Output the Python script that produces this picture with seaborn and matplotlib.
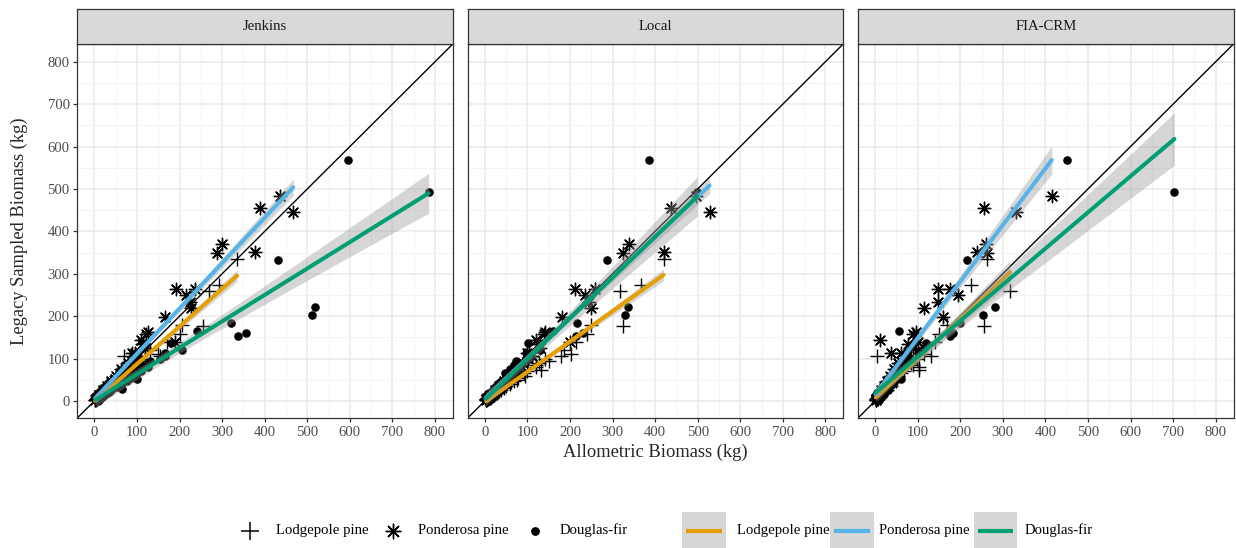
import numpy as np
import pandas as pd
import matplotlib
matplotlib.use("Agg")
import matplotlib.pyplot as plt
import seaborn as sns
from matplotlib.patches import Rectangle
from matplotlib.ticker import MultipleLocator

sns.set_theme(style="white")
plt.rcParams["font.family"] = ["Liberation Serif", "DejaVu Serif"]

# Lodgepole pine: legacy sampled biomass and allometric estimates (kg)
lp_legacy  = [335, 273, 259, 177, 178, 158, 140, 105, 110, 73, 107, 80, 120, 95, 60, 50, 40, 30, 22, 15, 10, 6, 3,
              2, 4, 5, 7, 9, 11, 13, 16, 18, 20, 24, 27, 32, 36, 44, 48, 55, 65, 70, 85, 90, 100]
lp_jenkins = [335, 293, 270, 256, 205, 200, 170, 155, 150, 95, 70, 85, 130, 110, 70, 55, 48, 35, 25, 18, 12, 7, 4,
              2, 5, 6, 8, 10, 13, 15, 19, 21, 24, 28, 31, 38, 42, 52, 57, 63, 76, 82, 100, 108, 118]
lp_local   = [420, 366, 317, 324, 250, 240, 215, 178, 202, 131, 110, 120, 185, 150, 95, 75, 60, 45, 32, 22, 15, 9, 5,
              3, 6, 8, 10, 13, 16, 19, 23, 26, 29, 34, 38, 45, 51, 62, 68, 78, 92, 99, 120, 128, 142]
lp_fia_crm = [262, 225, 317, 255, 170, 150, 140, 131, 115, 104, 5, 104, 95, 80, 55, 45, 35, 28, 20, 14, 9, 5, 3,
              2, 4, 6, 7, 8, 12, 13, 15, 19, 22, 25, 27, 30, 38, 40, 50, 52, 60, 68, 88, 85, 98]

# Ponderosa pine
pp_legacy  = [483, 456, 446, 369, 350, 352, 263, 265, 199, 234, 220, 250, 163, 158, 140, 135, 112, 144, 114, 90, 75, 60, 48, 35, 25, 15, 8, 4,
              2, 4, 6, 9, 11, 13, 17, 20, 23, 28, 31, 38, 42, 52, 56, 66, 70, 82, 98, 105, 125]
pp_jenkins = [435, 389, 467, 300, 288, 377, 192, 236, 166, 224, 228, 215, 127, 121, 189, 113, 88, 110, 95, 80, 62, 50, 40, 30, 20, 12, 7, 3,
              2, 4, 6, 8, 10, 12, 16, 19, 21, 26, 29, 36, 40, 49, 53, 62, 66, 77, 92, 99, 118]
pp_local   = [495, 438, 528, 338, 324, 422, 213, 260, 182, 245, 250, 235, 142, 138, 200, 125, 100, 120, 105, 90, 70, 58, 45, 34, 24, 14, 8, 4,
              2, 4, 6, 9, 11, 13, 18, 21, 24, 29, 32, 40, 44, 54, 58, 69, 73, 85, 101, 110, 130]
pp_fia_crm = [415, 256, 331, 260, 262, 240, 147, 176, 159, 148, 114, 195, 95, 88, 100, 78, 60, 12, 37, 55, 45, 36, 28, 20, 15, 9, 5, 3,
              1, 3, 4, 6, 8, 9, 12, 14, 17, 20, 22, 27, 30, 37, 41, 47, 51, 59, 70, 76, 90]

# Douglas-fir
df_legacy  = [568, 493, 332, 222, 203, 183, 160, 154, 166, 120, 136, 114, 95, 67, 51, 28, 85, 75, 60, 45, 40, 30, 20, 12, 8, 5,
              2, 3, 6, 9, 10, 14, 16, 18, 22, 25, 33, 36, 42, 48, 55, 65, 70, 80, 100, 105]
df_jenkins = [595, 785, 431, 519, 510, 322, 357, 337, 242, 206, 180, 165, 130, 90, 99, 64, 110, 100, 80, 55, 50, 40, 30, 20, 10, 6,
              3, 5, 9, 14, 16, 22, 26, 28, 35, 40, 52, 57, 66, 76, 86, 100, 110, 125, 155, 165]
df_local   = [385, 499, 286, 337, 330, 217, 230, 215, 160, 130, 102, 97, 73, 48, 62, 38, 68, 60, 50, 35, 30, 25, 18, 10, 6, 4,
              2, 3, 6, 9, 10, 14, 16, 18, 22, 25, 33, 35, 42, 47, 55, 64, 70, 78, 97, 102]
df_fia_crm = [450, 703, 215, 281, 254, 200, 184, 175, 57, 110, 120, 100, 80, 55, 60, 30, 75, 65, 52, 42, 35, 28, 20, 12, 8, 5,
              1, 2, 4, 6, 7, 10, 11, 13, 15, 17, 23, 25, 30, 34, 40, 47, 50, 58, 72, 78]

methods = ["Jenkins", "Local", "FIA-CRM"]
species_names = ["Lodgepole pine", "Ponderosa pine", "Douglas-fir"]
fit_colors = ["#E69F00", "#56B4E9", "#009E73"]

tables = []
for name, leg, jk, lo, fc in [
    ("Lodgepole pine", lp_legacy, lp_jenkins, lp_local, lp_fia_crm),
    ("Ponderosa pine", pp_legacy, pp_jenkins, pp_local, pp_fia_crm),
    ("Douglas-fir", df_legacy, df_jenkins, df_local, df_fia_crm),
]:
    for method, xs in zip(methods, [jk, lo, fc]):
        tables.append(pd.DataFrame({"species": name, "method": method,
                                    "allometric": xs, "legacy": leg}))
trees = pd.concat(tables, ignore_index=True)


def t975(dof):
    z = 1.959964
    return (z + (z**3 + z) / (4 * dof)
            + (5 * z**5 + 16 * z**3 + 3 * z) / (96 * dof**2))


def lm_band(x, y, npts=80):
    x = np.asarray(x, float)
    y = np.asarray(y, float)
    n = len(x)
    slope, icpt = np.polyfit(x, y, 1)
    resid = y - (icpt + slope * x)
    s = np.sqrt(np.sum(resid**2) / (n - 2))
    grid = np.linspace(x.min(), x.max(), npts)
    fit = icpt + slope * grid
    se = s * np.sqrt(1 / n + (grid - x.mean())**2 / np.sum((x - x.mean())**2))
    half = t975(n - 2) * se
    return grid, fit, fit - half, fit + half


W, H = 1236, 548
fig = plt.figure(figsize=(W / 100, H / 100), dpi=100)

lims = (-40.1, 841.7)
panel_left = [77.3, 467.7, 858.0]
panel_w = 375.5
panel_bottom, panel_top = 418.0, 44.0
strip_top = 9.0

marker_for = {"Lodgepole pine": "+", "Ponderosa pine": (8, 2, 0), "Douglas-fir": "o"}
size_for = {"Lodgepole pine": 95, "Ponderosa pine": 80, "Douglas-fir": 38}

border = "#333333"
for i, method in enumerate(methods):
    x0 = panel_left[i]
    ax = fig.add_axes([x0 / W, (H - panel_bottom) / H, panel_w / W,
                       (panel_bottom - panel_top) / H])
    ax.set_xlim(lims)
    ax.set_ylim(lims)
    ax.set_axisbelow(True)
    ax.xaxis.set_major_locator(MultipleLocator(100))
    ax.yaxis.set_major_locator(MultipleLocator(100))
    ax.xaxis.set_minor_locator(MultipleLocator(50))
    ax.yaxis.set_minor_locator(MultipleLocator(50))
    ax.grid(True, which="major", color="#EBEBEB", lw=1.1)
    ax.grid(True, which="minor", color="#F2F2F2", lw=0.6)
    for sp in ax.spines.values():
        sp.set_color(border)
        sp.set_linewidth(0.9)
    ax.tick_params(axis="both", which="major", direction="out", length=3,
                   width=0.9, color=border, labelsize=10.6,
                   labelcolor="#4D4D4D", pad=2.5)
    ax.tick_params(axis="both", which="minor", length=0)
    ax.tick_params(axis="x", bottom=True)
    if i == 0:
        ax.tick_params(axis="y", left=True)
    else:
        ax.tick_params(axis="y", left=False, labelleft=False)

    # 1:1 reference line
    ax.axline((0, 0), slope=1, color="black", lw=1.0, zorder=2)

    sub = trees[trees["method"] == method]
    for sp_name in species_names:
        pts = sub[sub["species"] == sp_name]
        mk = marker_for[sp_name]
        kws = dict(color="black", s=size_for[sp_name], zorder=3, ax=ax, legend=False)
        kws["linewidth"] = 0 if mk == "o" else 1.0
        sns.scatterplot(x=pts["allometric"].to_numpy(), y=pts["legacy"].to_numpy(),
                        marker=mk, **kws)

    for j, (sp_name, col) in enumerate(zip(species_names, fit_colors)):
        pts = sub[sub["species"] == sp_name]
        gx, gy, lo, hi = lm_band(pts["allometric"], pts["legacy"])
        ax.fill_between(gx, lo, hi, color="#999999", alpha=0.4, lw=0,
                        zorder=4 + j * 0.2)
        sns.lineplot(x=gx, y=gy, color=col, lw=2.9, ax=ax,
                     zorder=4.1 + j * 0.2, legend=False)
    ax.set_xlabel("")
    ax.set_ylabel("")

    # facet strip
    sax = fig.add_axes([x0 / W, (H - panel_top) / H, panel_w / W,
                        (panel_top - strip_top) / H])
    sax.set_xticks([])
    sax.set_yticks([])
    sax.set_facecolor("#D9D9D9")
    for sp in sax.spines.values():
        sp.set_color(border)
        sp.set_linewidth(0.9)
    sax.text(0.5, 0.5, method, ha="center", va="center", fontsize=10.6,
             color="#1A1A1A", transform=sax.transAxes)

fig.text((panel_left[0] + panel_left[2] + panel_w) / 2 / W, 1 - 452 / H,
         "Allometric Biomass (kg)", ha="center", va="center", fontsize=13.3)
fig.text(19 / W, 1 - 231 / H, "Legacy Sampled Biomass (kg)", ha="center",
         va="center", rotation=90, fontsize=13.3)

# legends along the bottom
lax = fig.add_axes([0, 0, 1, 1], facecolor="none")
lax.set_xlim(0, W)
lax.set_ylim(H, 0)
lax.axis("off")
ly = 530.5
shape_keys = [(250, "+", 150, 1.1, "Lodgepole pine", 276.5),
              (393, (8, 2, 0), 110, 1.0, "Ponderosa pine", 418),
              (535, "o", 40, 0, "Douglas-fir", 560)]
for cx, mk, sz, lw, label, tx in shape_keys:
    lax.scatter([cx], [ly], marker=mk, s=sz, color="black", linewidths=lw)
    lax.text(tx, ly, label, ha="left", va="center", fontsize=10.6, color="black")

color_keys = [(682, "Lodgepole pine", 737), (830, "Ponderosa pine", 879),
              (973.5, "Douglas-fir", 1025)]
for (kx, label, tx), col in zip(color_keys, fit_colors):
    lax.add_patch(Rectangle((kx, 512), 43.5, 36, facecolor="#D6D6D6",
                            edgecolor="none"))
    lax.plot([kx + 4, kx + 39.5], [ly, ly], color=col, lw=3.0,
             solid_capstyle="butt")
    lax.text(tx, ly, label, ha="left", va="center", fontsize=10.6, color="black")

fig.savefig("out.png", dpi=100)
